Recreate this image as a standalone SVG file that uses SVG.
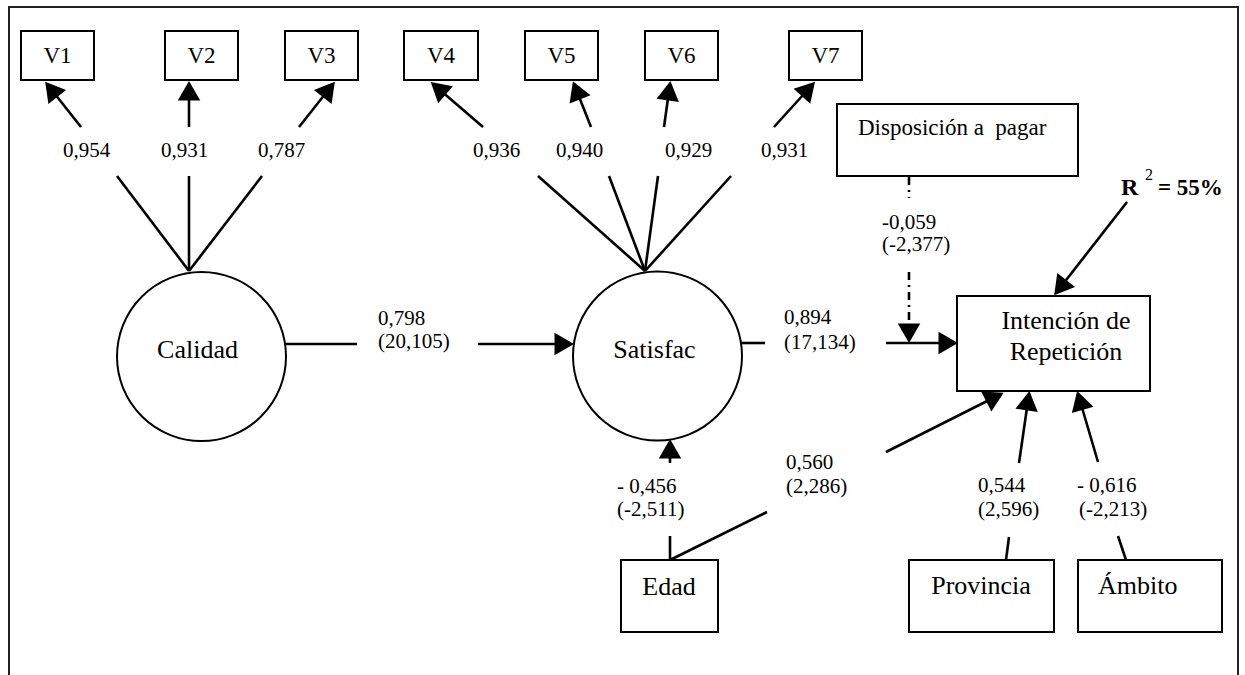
<svg xmlns="http://www.w3.org/2000/svg" width="1245" height="675" viewBox="0 0 1245 675">
  <style>
    text { font-family: "Liberation Serif", "Times New Roman", serif; fill: #000; }
    .box { fill: #fff; stroke: #000; stroke-width: 2; }
    .lat { fill: #fff; stroke: #000; stroke-width: 2; }
    .frame { fill: none; stroke: #222; stroke-width: 2; }
    .c { fill: none; stroke: #000; stroke-width: 2.6; }
    .dot { fill: none; stroke: #000; stroke-width: 2.6; stroke-dasharray: 8 5 2 5; }
    .v { font-size: 23px; text-anchor: middle; }
    .big { font-size: 26px; text-anchor: middle; }
    .num { font-size: 21px; }
    .bold { font-weight: bold; }
  </style>
  <defs>
    <marker id="arrow" markerUnits="userSpaceOnUse" markerWidth="30" markerHeight="30" viewBox="-15 -10 20 20" refX="0" refY="0" orient="auto">
      <path d="M-11,-7.5 L2,0 L-11,7.5 z" fill="#000"/>
    </marker>
  </defs>

  <!-- outer frame, open at the bottom -->
  <path class="frame" d="M9,675 V7 H1238 V675"/>

  <!-- connectors -->
  <g id="connectors">
    <!-- Calidad loadings -->
    <line class="c" x1="189" y1="271" x2="117" y2="176"/>
    <line class="c" x1="81" y1="127" x2="47" y2="84" marker-end="url(#arrow)"/>
    <line class="c" x1="189" y1="271" x2="189" y2="176"/>
    <line class="c" x1="189" y1="127" x2="189" y2="84" marker-end="url(#arrow)"/>
    <line class="c" x1="189" y1="271" x2="262" y2="176"/>
    <line class="c" x1="299" y1="127" x2="333" y2="84" marker-end="url(#arrow)"/>
    <!-- Satisfac loadings -->
    <line class="c" x1="645" y1="271" x2="538" y2="176"/>
    <line class="c" x1="483" y1="127" x2="433" y2="84" marker-end="url(#arrow)"/>
    <line class="c" x1="645" y1="271" x2="609" y2="176"/>
    <line class="c" x1="591" y1="127" x2="574" y2="84" marker-end="url(#arrow)"/>
    <line class="c" x1="645" y1="271" x2="658" y2="176"/>
    <line class="c" x1="664" y1="127" x2="670" y2="84" marker-end="url(#arrow)"/>
    <line class="c" x1="645" y1="271" x2="731" y2="176"/>
    <line class="c" x1="774" y1="127" x2="813" y2="84" marker-end="url(#arrow)"/>
    <!-- Calidad -> Satisfac -->
    <line class="c" x1="285" y1="344" x2="357" y2="344"/>
    <line class="c" x1="478" y1="344" x2="571" y2="344" marker-end="url(#arrow)"/>
    <!-- Satisfac -> Intención -->
    <line class="c" x1="741" y1="343" x2="765" y2="343"/>
    <line class="c" x1="886" y1="343" x2="955" y2="343" marker-end="url(#arrow)"/>
    <!-- Disposición a pagar (moderating, dash-dot) -->
    <line class="dot" x1="909" y1="177" x2="909" y2="198"/>
    <line class="dot" x1="909" y1="272" x2="909" y2="340" marker-end="url(#arrow)"/>
    <!-- R2 -> Intención -->
    <line class="c" x1="1127" y1="202" x2="1056" y2="293" marker-end="url(#arrow)"/>
    <!-- Edad -> Satisfac -->
    <line class="c" x1="670" y1="560" x2="670" y2="536"/>
    <line class="c" x1="670" y1="463" x2="670" y2="442" marker-end="url(#arrow)"/>
    <!-- Edad -> Intención -->
    <line class="c" x1="670" y1="560" x2="767" y2="512"/>
    <line class="c" x1="886" y1="452" x2="1001" y2="394" marker-end="url(#arrow)"/>
    <!-- Provincia -> Intención -->
    <line class="c" x1="1006" y1="560" x2="1009" y2="537"/>
    <line class="c" x1="1019" y1="463" x2="1029" y2="394" marker-end="url(#arrow)"/>
    <!-- Ámbito -> Intención -->
    <line class="c" x1="1126" y1="560" x2="1118" y2="536"/>
    <line class="c" x1="1098" y1="462" x2="1078" y2="394" marker-end="url(#arrow)"/>
  </g>

  <!-- path coefficients -->
  <g id="coefficients" class="num">
    <text x="63" y="157">0,954</text>
    <text x="161" y="157">0,931</text>
    <text x="258" y="157">0,787</text>
    <text x="473" y="157">0,936</text>
    <text x="556" y="157">0,940</text>
    <text x="665" y="157">0,929</text>
    <text x="761" y="157">0,931</text>
    <text x="378" y="325">0,798</text>
    <text x="378" y="348">(20,105)</text>
    <text x="784" y="324">0,894</text>
    <text x="784" y="349">(17,134)</text>
    <text x="882" y="229">-0,059</text>
    <text x="882" y="251">(-2,377)</text>
    <text x="617" y="493">- 0,456</text>
    <text x="617" y="516">(-2,511)</text>
    <text x="786" y="469">0,560</text>
    <text x="786" y="493">(2,286)</text>
    <text x="978" y="492">0,544</text>
    <text x="978" y="516">(2,596)</text>
    <text x="1077" y="492">- 0,616</text>
    <text x="1079" y="516">(-2,213)</text>
  </g>

  <!-- indicators -->
  <g id="V1"><rect class="box" x="21" y="31" width="73" height="49"/><text class="v" x="57.5" y="63">V1</text></g>
  <g id="V2"><rect class="box" x="165" y="31" width="73" height="49"/><text class="v" x="201.5" y="63">V2</text></g>
  <g id="V3"><rect class="box" x="285" y="31" width="73" height="49"/><text class="v" x="321.5" y="63">V3</text></g>
  <g id="V4"><rect class="box" x="404" y="31" width="74" height="49"/><text class="v" x="441" y="63">V4</text></g>
  <g id="V5"><rect class="box" x="525" y="31" width="73" height="49"/><text class="v" x="561.5" y="63">V5</text></g>
  <g id="V6"><rect class="box" x="645" y="31" width="73" height="49"/><text class="v" x="681.5" y="63">V6</text></g>
  <g id="V7"><rect class="box" x="789" y="31" width="73" height="49"/><text class="v" x="825.5" y="63">V7</text></g>

  <!-- latent constructs -->
  <g id="calidad"><circle class="lat" cx="201.5" cy="356.5" r="84.5"/><text class="big" x="197.5" y="358">Calidad</text></g>
  <g id="satisfac"><circle class="lat" cx="657.5" cy="356" r="84.5"/><text class="big" x="654.5" y="358">Satisfac</text></g>

  <!-- observed variables -->
  <g id="disposicion"><rect class="box" x="837" y="104" width="241" height="72"/><text x="858" y="135" font-size="23" style="white-space:pre">Disposición a  pagar</text></g>
  <g id="intencion"><rect class="box" x="957" y="296" width="193" height="95"/>
    <text class="big" x="1066" y="329">Intención de</text>
    <text class="big" x="1066" y="360">Repetición</text>
  </g>
  <g id="edad"><rect class="box" x="621" y="560" width="97" height="72"/><text class="big" x="669" y="595">Edad</text></g>
  <g id="provincia"><rect class="box" x="909" y="560" width="145" height="72"/><text class="big" x="981" y="594">Provincia</text></g>
  <g id="ambito"><rect class="box" x="1078" y="560" width="144" height="72"/><text x="1098" y="594" font-size="26">Ámbito</text></g>

  <!-- explained variance -->
  <g id="r2">
    <text class="bold" x="1121" y="195" font-size="24">R</text>
    <text x="1145" y="180" font-size="16">2</text>
    <text class="bold" x="1158" y="195" font-size="23">= 55%</text>
  </g>
</svg>
